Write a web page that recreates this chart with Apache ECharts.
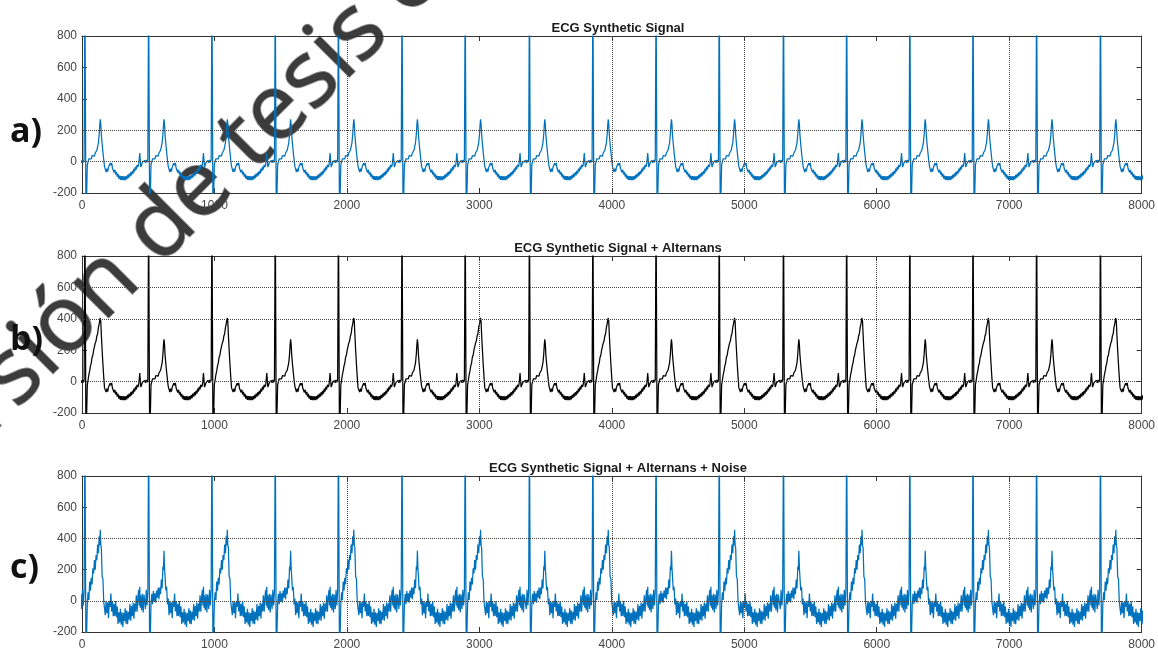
<!DOCTYPE html>
<html>
<head>
<meta charset="utf-8">
<script src="https://cdn.jsdelivr.net/npm/echarts@6/dist/echarts.min.js"></script>
<style>
html,body{margin:0;padding:0;background:#fff;}
#chart{width:1158px;height:651px;}
</style>
</head>
<body>
<div id="chart"></div>
<script>
// ---- data ----
const titles = ['ECG Synthetic Signal', 'ECG Synthetic Signal + Alternans', 'ECG Synthetic Signal + Alternans + Noise'];
const panelLabels = ['a)', 'b)', 'c)'];
const xTicks = [0, 1000, 2000, 3000, 4000, 5000, 6000, 7000, 8000];
const yTicks = [-200, 0, 200, 400, 600, 800];

// R-peak sample positions of each beat
const rPeaks = [22, 503, 981, 1459, 1936, 2416, 2893, 3378, 3857, 4334, 4811, 5296, 5773, 6250, 6727, 7207, 7689];

// sample offsets of one beat, relative to its R peak
const beatOffsets = [-30,-24,-18,-12,-6,
  0,8,18,
  24,30,36,42,48,54,60,66,72,78,84,90,96,102,108,112,116,120,124,130,136,142,148,
  154,160,166,172,178,184,190,196,202,208,214,220,226,232,238,244,250,256,262,268,274,280,286,292,298,304,310,316,322,328,334,340,346,352,358,364,370,376,382,388,394,400,
  406,410,414,418,422,428,434,440,446];

// normal beat (T wave ~270)
const beatNormal = [8,-8,10,-5,12,
  1100,-400,-20,
  0,18,8,30,18,38,26,45,35,55,50,72,82,120,175,232,270,238,172,112,60,12,-30,
  -37,-67,-45,-64,-36,-47,-10,-24,-8,-43,-34,-69,-52,-82,-65,-96,-78,-109,-89,-116,-93,-118,-93,-118,-94,-118,-92,-113,-85,-105,-76,-96,-68,-88,-59,-76,-45,-63,-33,-50,-20,-34,
  -20,15,55,10,-35,-20,-5,-15,0];

// alternans beat (T wave ~400)
const beatTall = [8,-8,10,-5,12,
  1100,-400,-20,
  10,45,68,100,118,155,168,200,212,245,258,290,305,345,368,392,405,380,300,200,110,30,-40,
  -37,-67,-45,-64,-36,-47,-10,-24,-8,-43,-34,-69,-52,-82,-65,-96,-78,-109,-89,-116,-93,-118,-93,-118,-94,-118,-92,-113,-85,-105,-76,-96,-68,-88,-59,-76,-45,-63,-33,-50,-20,-34,
  -20,15,55,10,-35,-20,-5,-15,0];

// alternans pattern: true = tall T wave
const alternans = [true,false,true,false,true,false,true,false,true,false,true,false,true,false,true,false,true];

// added noise of panel c, per beat sample
const noiseC = [35,-45,60,-25,50,
  0,0,0,
  45,-40,55,-35,30,-50,40,-25,50,-45,35,-30,55,-40,45,-35,50,-25,40,-45,30,-35,45,
  -55,65,-35,55,-75,45,-30,70,-60,40,-65,50,-45,80,-40,60,-70,35,-50,65,-60,45,-75,40,-35,70,-55,50,-65,35,-45,75,-60,55,-40,65,-70,45,-35,85,-50,60,
  90,-45,35,-55,70,-40,50,-60,40];

// dotted grid lines visible in each panel
const gridY = [[0, 200], [0, 400, 600], [0, 400]];
const gridX = [[2000, 4000, 5000, 7000], [3000, 6000], [2000, 4000, 5000, 7000]];

// ---- build series data ----
function buildSignal(useAlternans, noise) {
  const out = [];
  rPeaks.forEach((r, b) => {
    const tpl = (useAlternans && alternans[b]) ? beatTall : beatNormal;
    for (let i = 0; i < beatOffsets.length; i++) {
      out.push([r + beatOffsets[i], tpl[i] + (noise ? noise[i] : 0)]);
    }
  });
  return out;
}
const sigA = buildSignal(false, null);
const sigB = buildSignal(true, null);
const sigC = buildSignal(true, noiseC);

// ---- layout ----
const L = 82, R = 14;
const tops = [36, 256, 476];
const H = 157;
const colors = ['#0072BD', '#000000', '#0072BD'];
const FONT = '"Liberation Sans", Arial, sans-serif';

const grids = [], xAxes = [], yAxes = [], series = [], titleArr = [], graphics = [];
for (let p = 0; p < 3; p++) {
  grids.push({left: L, right: R, top: tops[p], height: H, show: false});
  const axStyle = {lineStyle: {color: '#333', width: 1}};
  xAxes.push({
    type: 'value', gridIndex: p, min: xTicks[0], max: xTicks[xTicks.length - 1], interval: 1000, position: 'bottom',
    axisLine: {show: true, onZero: false, ...axStyle},
    axisTick: {show: true, inside: true, length: 5, ...axStyle},
    axisLabel: {show: true, margin: 7, fontSize: 12, color: '#444', fontFamily: FONT, formatter: v => String(v)},
    splitLine: {show: false}
  });
  xAxes.push({
    type: 'value', gridIndex: p, min: xTicks[0], max: xTicks[xTicks.length - 1], interval: 1000, position: 'top',
    axisLine: {show: true, onZero: false, ...axStyle},
    axisTick: {show: true, inside: true, length: 5, ...axStyle},
    axisLabel: {show: false}, splitLine: {show: false}
  });
  yAxes.push({
    type: 'value', gridIndex: p, min: yTicks[0], max: yTicks[yTicks.length - 1], interval: 200, position: 'left',
    axisLine: {show: true, onZero: false, ...axStyle},
    axisTick: {show: true, inside: true, length: 5, ...axStyle},
    axisLabel: {show: true, margin: 5, fontSize: 12, color: '#444', fontFamily: FONT, formatter: v => String(v)},
    splitLine: {show: false}
  });
  yAxes.push({
    type: 'value', gridIndex: p, min: yTicks[0], max: yTicks[yTicks.length - 1], interval: 200, position: 'right',
    axisLine: {show: true, onZero: false, ...axStyle},
    axisTick: {show: true, inside: true, length: 5, ...axStyle},
    axisLabel: {show: false}, splitLine: {show: false}
  });
  const mlData = [];
  gridY[p].forEach(v => mlData.push({yAxis: v}));
  gridX[p].forEach(v => mlData.push({xAxis: v}));
  series.push({
    type: 'line', xAxisIndex: 2 * p, yAxisIndex: 2 * p,
    data: [sigA, sigB, sigC][p],
    showSymbol: false, symbol: 'none', sampling: null, animation: false, clip: true,
    lineStyle: {color: colors[p], width: 1.25},
    itemStyle: {color: colors[p]},
    markLine: {
      silent: true, symbol: 'none', animation: false,
      label: {show: false},
      lineStyle: {type: 'dotted', color: '#444', width: 1},
      data: mlData
    }
  });
  titleArr.push({
    text: titles[p], left: 613, top: tops[p] - 19, textAlign: 'center',
    textStyle: {fontFamily: '"Liberation Sans Narrow", "Arial Narrow", ' + FONT, fontWeight: 'bold', fontSize: 13, color: '#1a1a1a'}
  });
  graphics.push({
    type: 'text', left: 10, top: [115, 323, 551][p], z: 50,
    style: {text: panelLabels[p], font: 'bold 34px "Open Sans", Arial, sans-serif', fill: '#111'}
  });
}

// watermark (drawn beneath the plotted lines)
graphics.push({
  type: 'text', x: -104, y: 493, rotation: Math.PI / 4, z: -1, silent: true,
  style: {
    text: 'Versión de tesis electrónica', font: '92px "Open Sans", sans-serif',
    fill: 'rgba(50,50,50,0.95)', verticalAlign: 'middle', align: 'left',
    stroke: 'rgba(50,50,50,0.6)', lineWidth: 2,
    shadowBlur: 7, shadowColor: 'rgba(50,50,50,0.9)'
  }
});

const chart = echarts.init(document.getElementById('chart'), null, {renderer: 'canvas'});
chart.setOption({
  animation: false,
  backgroundColor: '#fff',
  title: titleArr,
  grid: grids,
  xAxis: xAxes,
  yAxis: yAxes,
  series: series,
  graphic: graphics
});
</script>
</body>
</html>
